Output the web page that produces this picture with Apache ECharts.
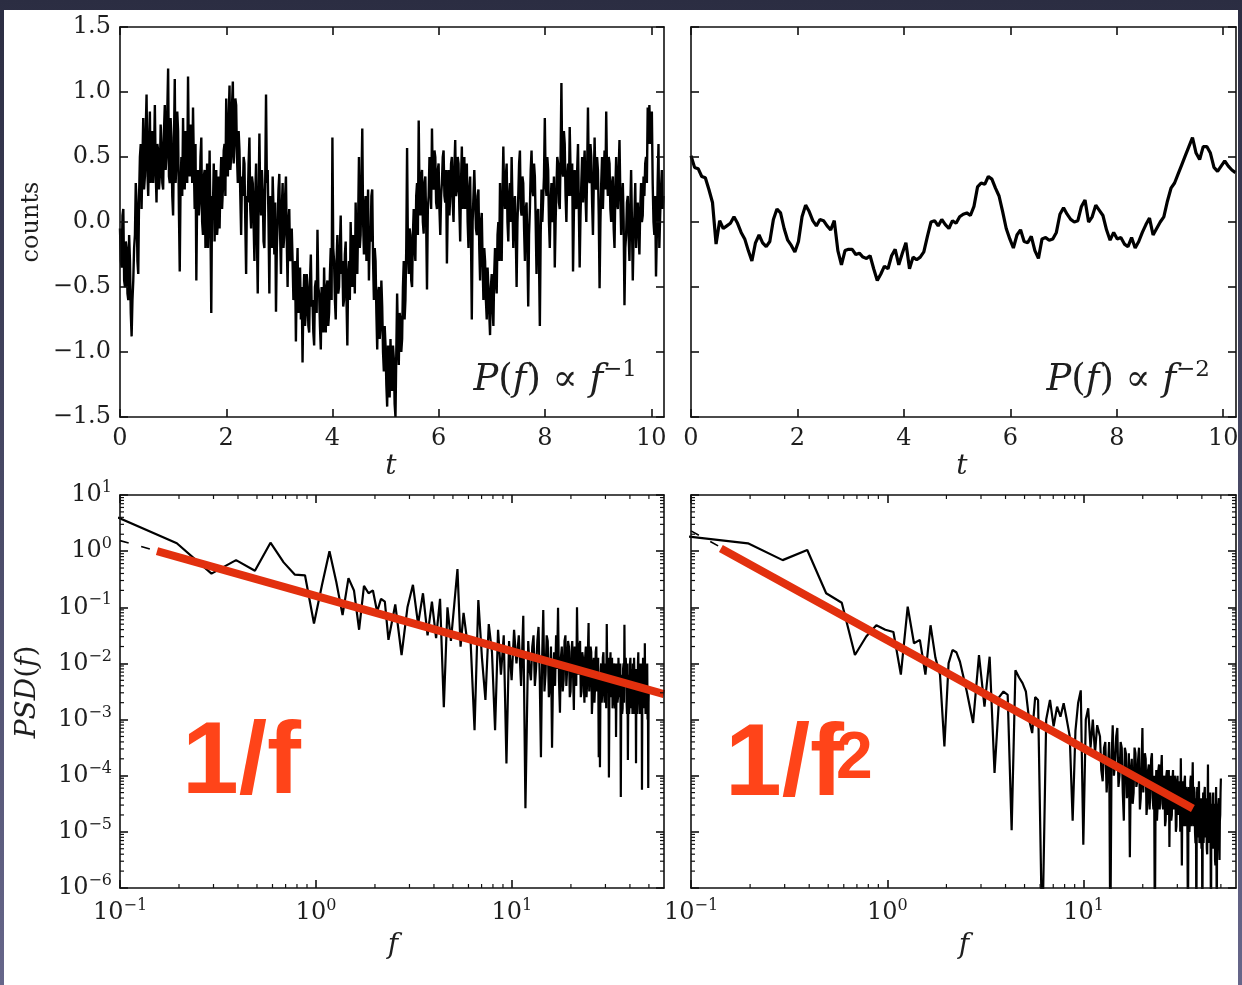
<!DOCTYPE html>
<html>
<head>
<meta charset="utf-8">
<title>1/f and 1/f² noise</title>
<script src="https://cdn.jsdelivr.net/npm/echarts@6/dist/echarts.min.js"></script>
<style>
  html, body { margin: 0; padding: 0; background: #34364c; }
  #chart { width: 1242px; height: 985px; }
</style>
</head>
<body>
<div id="chart"></div>
<script>
// ---- time series (counts), evenly sampled over 0 .. T_SPAN ----
const T_SPAN = 10.23;

// pink noise, P(f) ∝ f^-1
const pinkCounts = [
  -0.05, -0.3, -0.35, 0.05, 0.1, -0.45, -0.5, -0.15, -0.2, -0.55, -0.6, -0.1, -0.3, -0.7, -0.88, -0.6,
  -0.45, -0.2, -0.1, 0.3, 0.15, -0.3, -0.4, 0.2, 0.5, 0.6, 0.1, 0.45, 0.8, 0.25, 0.35, 0.7,
  0.98, 0.4, 0.2, 0.6, 0.85, 0.3, 0.45, 0.7, 0.3, 0.5, 0.9, 0.4, 0.15, 0.6, 0.55, 0.25,
  0.35, 0.75, 0.6, 0.3, 0.25, 0.7, 0.9, 0.4, 0.5, 0.85, 1.18, 0.35, 0.3, 0.8, 0.65, 0.2,
  0.05, 0.6, 1.1, 0.3, 0.45, 0.85, 0.7, 0.1, -0.38, 0.3, 0.5, 0.2, 0.8, 0.35, 0.25, 0.7,
  0.6, 0.3, 1.12, 0.5, 0.35, 0.75, 0.7, 0.3, 0.88, 0.45, 0.1, 0.6, -0.45, 0.2, 0.4, 0.05,
  0.15, 0.5, 0.65, 0.0, -0.1, 0.35, 0.4, -0.2, 0.2, 0.45, -0.2, 0.1, 0.55, 0.0, -0.7, 0.2,
  0.1, 0.45, -0.15, 0.2, 0.4, -0.1, 0.0, 0.35, -0.05, 0.3, 0.5, 0.1, 0.25, 0.55, 0.6, 0.2,
  0.95, 0.5, 0.35, 0.8, 1.05, 0.4, 0.5, 0.9, 1.08, 0.45, 0.6, 0.95, 0.9, 0.5, 0.3, 0.7,
  0.55, 0.2, -0.1, 0.35, 0.2, 0.5, 0.45, 0.0, -0.4, 0.2, 0.15, 0.45, 0.65, 0.1, -0.05, 0.35,
  0.3, 0.0, -0.3, 0.2, 0.45, -0.1, -0.55, 0.15, 0.68, 0.2, 0.05, 0.4, 0.25, -0.15, -0.2, 0.3,
  0.98, 0.3, 0.4, 0.0, -0.55, 0.2, 0.1, -0.2, 0.35, 0.1, -0.25, 0.15, -0.69, -0.2, 0.0, 0.25,
  0.37, -0.1, -0.4, 0.1, 0.3, -0.2, -0.1, 0.2, 0.35, -0.15, -0.5, 0.0, 0.1, -0.3, -0.25, -0.05,
  -0.3, -0.6, -0.55, -0.3, -0.92, -0.45, -0.2, -0.7, -0.6, -0.35, -0.75, -0.5, -1.08, -0.6, -0.4, -0.8,
  -0.7, -0.4, -0.5, -0.8, -0.85, -0.45, -0.25, -0.65, -0.6, -0.85, -0.95, -0.5, -0.45, -0.7, -0.06, -0.5,
  -0.55, -0.8, -0.98, -0.5, -0.6, -0.85, -0.35, -0.7, -0.85, -0.5, -0.45, -0.8, -0.7, -0.4, -0.2, -0.6,
  0.65, -0.2, -0.3, -0.6, -0.75, -0.3, -0.1, -0.55, -0.5, -0.2, 0.05, -0.4, -0.3, -0.65, -0.6, -0.25,
  -0.15, -0.6, -0.95, -0.4, -0.3, -0.6, 0.0, -0.35, -0.5, -0.1, -0.2, -0.55, 0.15, -0.2, -0.4, 0.0,
  0.5, -0.2, -0.1, 0.3, 0.72, 0.0, -0.25, 0.1, 0.2, -0.3, -0.05, 0.25, -0.45, -0.1, -0.15, 0.2,
  0.25, -0.3, -0.6, -0.2, -0.3, -0.7, -0.98, -0.55, -0.5, -0.9, -0.8, -0.45, -0.65, -1.0, -1.15, -0.8,
  -0.95, -1.25, -1.42, -0.95, -1.1, -1.35, -0.9, -1.2, -1.3, -0.95, -1.05, -1.4, -1.5, -1.0, -0.55, -0.9,
  -1.1, -0.7, -0.75, -1.0, -0.9, -0.5, -0.3, -0.75, -0.6, -0.2, 0.57, -0.2, -0.4, -0.05, -0.1, -0.45,
  -0.5, -0.1, 0.1, -0.2, -0.3, 0.2, 0.3, -0.1, 0.78, 0.2, 0.05, 0.35, 0.4, 0.0, -0.09, 0.3,
  0.35, 0.0, -0.52, 0.1, 0.2, 0.5, 0.45, 0.1, 0.72, 0.3, 0.25, 0.55, 0.5, 0.15, 0.1, 0.4,
  0.45, 0.1, -0.1, 0.2, 0.3, 0.5, 0.55, 0.2, 0.15, 0.4, -0.32, 0.1, 0.4, 0.05, 0.2, 0.45,
  0.5, 0.15, 0.0, 0.4, 0.63, 0.2, 0.25, 0.5, 0.45, 0.1, -0.15, 0.3, 0.58, 0.1, 0.3, 0.5,
  0.1, 0.35, 0.45, 0.0, -0.2, 0.25, 0.35, -0.1, -0.75, 0.0, 0.2, 0.4, 0.4, -0.05, -0.1, 0.2,
  0.25, -0.2, -0.45, 0.0, 0.07, -0.3, -0.6, -0.2, -0.3, -0.6, -0.75, -0.35, -0.5, -0.7, -0.87, -0.5,
  -0.4, -0.65, -0.8, -0.4, -0.2, -0.45, -0.55, -0.1, 0.0, -0.3, 0.3, 0.0, -0.3, 0.2, 0.58, 0.2,
  0.1, 0.35, 0.45, 0.0, -0.15, 0.2, 0.3, 0.0, 0.5, 0.15, -0.2, 0.1, 0.2, -0.1, -0.5, 0.0,
  0.2, 0.45, 0.55, 0.1, 0.05, 0.35, 0.3, -0.05, -0.3, 0.1, 0.15, -0.2, -0.65, -0.1, 0.1, 0.4,
  0.55, 0.25, 0.2, 0.45, 0.35, 0.0, -0.4, 0.05, 0.1, -0.3, -0.8, -0.1, 0.25, 0.0, 0.0, 0.35,
  0.8, 0.3, 0.2, 0.5, 0.4, 0.0, -0.2, 0.15, 0.3, 0.0, 0.05, 0.35, -0.35, 0.0, 0.25, 0.5,
  0.45, 0.15, 0.1, 0.5, 1.07, 0.4, 0.35, 0.7, 0.6, 0.2, 0.0, 0.35, 0.45, 0.2, 0.73, 0.4,
  0.2, 0.45, -0.38, 0.05, 0.4, 0.15, 0.1, 0.4, 0.6, 0.1, -0.35, 0.05, 0.3, 0.5, 0.15, 0.4,
  0.55, 0.2, 0.0, 0.4, 0.88, 0.35, 0.3, 0.6, 0.5, 0.15, -0.1, 0.3, 0.65, 0.3, 0.25, 0.5,
  0.4, 0.05, -0.51, 0.0, 0.3, 0.5, 0.1, 0.35, 0.55, 0.25, 0.85, 0.35, 0.2, 0.5, 0.45, 0.1,
  0.0, 0.3, 0.35, -0.05, -0.2, 0.25, 0.5, 0.15, 0.1, 0.4, 0.63, 0.2, -0.1, 0.15, 0.3, 0.0,
  -0.64, -0.2, -0.1, 0.15, 0.2, -0.1, -0.3, 0.1, 0.4, 0.0, -0.45, -0.1, 0.05, 0.3, -0.2, 0.1,
  0.15, -0.1, -0.25, 0.1, 0.3, 0.0, 0.05, 0.35, 0.2, 0.45, 0.5, 0.3, 0.88, 0.6, 0.9, 0.7,
  0.6, 0.85, 0.3, 0.0, -0.1, 0.2, -0.42, -0.1, 0.3, 0.6, -0.2, 0.05, 0.25, 0.4, 0.1, 0.2
];

// brown noise, P(f) ∝ f^-2
const brownCounts = [
  0.51, 0.42, 0.41, 0.35, 0.34, 0.25, 0.15, -0.17, 0.01, -0.05,
  -0.03, -0.01, 0.04, -0.01, -0.08, -0.13, -0.22, -0.30, -0.16, -0.10,
  -0.16, -0.19, -0.15, 0.02, 0.10, 0.07, -0.05, -0.14, -0.18, -0.23,
  -0.15, 0.04, 0.13, 0.08, 0.01, -0.03, 0.02, 0.01, -0.03, -0.06,
  0.01, -0.22, -0.33, -0.22, -0.21, -0.21, -0.25, -0.24, -0.27, -0.28,
  -0.26, -0.36, -0.45, -0.40, -0.34, -0.36, -0.26, -0.21, -0.33, -0.24,
  -0.16, -0.36, -0.27, -0.29, -0.27, -0.23, -0.11, 0.00, 0.01, -0.03,
  0.02, -0.02, -0.05, 0.01, -0.01, 0.04, 0.06, 0.07, 0.05, 0.12,
  0.27, 0.30, 0.29, 0.35, 0.33, 0.26, 0.20, 0.08, -0.05, -0.13,
  -0.20, -0.10, -0.06, -0.15, -0.16, -0.11, -0.22, -0.28, -0.13, -0.12,
  -0.14, -0.13, -0.08, 0.06, 0.11, 0.06, 0.02, 0.00, 0.01, 0.12,
  0.17, 0.00, 0.04, 0.13, 0.09, 0.05, -0.06, -0.14, -0.08, -0.13,
  -0.12, -0.17, -0.19, -0.12, -0.20, -0.15, -0.08, -0.02, 0.03, -0.10,
  -0.05, 0.00, 0.04, 0.16, 0.26, 0.30, 0.37, 0.44, 0.51, 0.58,
  0.65, 0.53, 0.48, 0.58, 0.58, 0.53, 0.42, 0.39, 0.43, 0.47,
  0.43, 0.40, 0.38
];

// ---- power spectra, shared frequency grid ----
const freq = [
  0.0977, 0.195, 0.293, 0.391, 0.488, 0.586, 0.684, 0.781, 0.879, 0.977,
  1.074, 1.172, 1.270, 1.367, 1.465, 1.563, 1.660, 1.758, 1.855, 1.953,
  2.051, 2.148, 2.246, 2.344,
  2.539, 2.734, 2.930, 3.125, 3.320, 3.516, 3.711, 3.906, 4.102, 4.297,
  4.492, 4.688, 4.883, 5.078, 5.273, 5.469, 5.664, 5.859,
  6.152, 6.445, 6.738, 7.031, 7.324, 7.617, 7.910, 8.203, 8.496, 8.789,
  9.082, 9.375, 9.668, 9.961, 10.254, 10.547, 10.840, 11.133, 11.426, 11.719,
  12.11, 12.30, 12.50, 12.70, 12.89, 13.09, 13.28, 13.48, 13.67, 13.87,
  14.06, 14.26, 14.45, 14.65, 14.84, 15.04, 15.23, 15.43, 15.63, 15.82,
  16.02, 16.21, 16.41, 16.60, 16.80, 16.99, 17.19, 17.38, 17.58, 17.77,
  17.97, 18.16, 18.36, 18.55, 18.75, 18.95, 19.14, 19.34, 19.53, 19.73,
  19.92, 20.12, 20.31, 20.51, 20.70, 20.90, 21.09, 21.29, 21.48, 21.68,
  21.88, 22.07, 22.27, 22.46, 22.66, 22.85, 23.05, 23.24, 23.44, 23.63,
  23.83, 24.02, 24.22, 24.41, 24.61, 24.80, 25.00, 25.20, 25.39, 25.59,
  25.78, 25.98, 26.17, 26.37, 26.56, 26.76, 26.95, 27.15, 27.34, 27.54,
  27.73, 27.93, 28.13, 28.32, 28.52, 28.71, 28.91, 29.10, 29.30, 29.49,
  29.69, 29.88, 30.08, 30.27, 30.47, 30.66, 30.86, 31.05, 31.25, 31.45,
  31.64, 31.84, 32.03, 32.23, 32.42, 32.62, 32.81, 33.01, 33.20, 33.40,
  33.59, 33.79, 33.98, 34.18, 34.38, 34.57, 34.77, 34.96, 35.16, 35.35,
  35.55, 35.74, 35.94, 36.13, 36.33, 36.52, 36.72, 36.91, 37.11, 37.30,
  37.50, 37.70, 37.89, 38.09, 38.28, 38.48, 38.67, 38.87, 39.06, 39.26,
  39.45, 39.65, 39.84, 40.04, 40.23, 40.43, 40.63, 40.82, 41.02, 41.21,
  41.41, 41.60, 41.80, 41.99, 42.19, 42.38, 42.58, 42.77, 42.97, 43.16,
  43.36, 43.55, 43.75, 43.95, 44.14, 44.34, 44.53, 44.73, 44.92, 45.12,
  45.31, 45.51, 45.70, 45.90, 46.09, 46.29, 46.48, 46.68, 46.88, 47.07,
  47.27, 47.46, 47.66, 47.85, 48.05, 48.24, 48.44, 48.63, 48.83, 49.02,
  49.22, 49.41, 49.61, 49.80, 50.00
];

// log10 PSD of the pink series
const pinkPsdLog10 = [
  0.60, 0.14, -0.40, -0.16, -0.35, 0.15, -0.20, -0.42, -0.43, -1.29,
  -0.60, 0.00, -0.55, -1.14, -0.48, -0.70, -1.40, -0.62, -0.75, -0.70,
  -1.08, -0.85, -0.90, -1.58,
  -0.95, -1.85, -1.0, -0.6, -1.3, -0.75, -1.5, -0.9, -1.55, -0.85,
  -2.78, -1.0, -1.6, -0.95, -0.32, -1.7, -1.1, -1.5,
  -1.6, -3.19, -0.87, -1.9, -2.65, -1.3, -1.8, -3.19, -1.4, -2.2,
  -1.5, -3.78, -1.6, -2.3, -1.4, -2.0, -1.5, -2.4, -1.15, -4.58,
  -1.6, -2.1, -2.3, -1.7, -1.5, -2.4, -2.1, -1.6, -1.35, -2.3, -3.67, -1.9, -1.05, -2.5, -2.2, -1.5, -1.6, -2.6, -2.4, -1.7,
  -3.5, -2.2, -1.8, -2.4, -1.5, -2.1, -1.01, -2.3, -2.88, -1.9, -1.7, -2.5, -2.3, -1.6, -1.5, -2.4, -2.1, -1.6, -1.7, -2.6,
  -2.5, -1.8, -1.6, -2.2, -2.83, -1.7, -1.8, -2.4, -1.0, -2.0, -2.2, -1.7, -1.6, -2.6, -2.5, -1.8, -1.9, -2.3, -2.7, -1.9,
  -1.7, -2.6, -2.3, -1.8, -1.28, -2.5, -2.1, -1.7, -1.8, -2.9, -2.6, -2.0, -1.9, -2.7, -2.4, -1.8, -1.7, -2.5, -2.2, -1.9,
  -3.67, -2.3, -3.85, -2.2, -2.0, -2.7, -2.5, -1.9, -1.8, -2.4, -2.7, -2.1, -2.0, -2.8, -1.3, -2.2, -2.4, -1.9, -4.03, -2.5,
  -2.1, -1.8, -2.6, -2.2, -1.9, -2.8, -2.5, -2.0, -2.1, -2.6, -2.8, -2.0, -3.31, -2.4, -2.0, -2.7, -2.6, -1.9, -1.9, -2.6,
  -2.5, -2.0, -4.38, -2.6, -2.2, -2.9, -2.8, -2.1, -2.0, -2.7, -1.31, -2.3, -2.4, -1.9, -2.1, -2.7, -2.9, -2.0, -3.72, -2.5,
  -2.2, -2.9, -2.6, -2.0, -1.9, -2.5, -2.8, -2.1, -2.3, -2.9, -2.0, -2.4, -2.9, -1.9, -2.2, -2.8, -2.6, -2.1, -3.78, -2.4,
  -2.1, -2.9, -2.7, -2.0, -1.8, -2.6, -2.5, -2.1, -2.9, -2.3, -2.0, -2.8, -2.6, -2.0, -4.25, -2.6, -2.3, -1.9, -2.8, -2.2,
  -2.0, -2.7, -1.64, -2.4, -2.9, -2.1, -2.2, -2.8, -2.6, -2.0, -3.0, -2.5, -4.22, -2.7, -2.4
];

// log10 PSD of the brown series
const brownPsdLog10 = [
  0.26, 0.14, -0.16, 0.02, -0.75, -0.92, -1.85, -1.52, -1.32, -1.40,
  -1.44, -2.20, -0.99, -1.64, -1.58, -2.20, -1.32, -1.90, -2.20, -3.48,
  -2.00, -1.76, -1.80, -1.97,
  -2.5, -3.06, -1.85, -2.77, -1.88, -3.95, -2.6, -2.5, -2.56, -4.97,
  -2.12, -2.25, -2.35, -2.5, -3.0, -3.24, -2.6, -2.65,
  -7, -3.0, -2.65, -3.12, -2.77, -2.95, -2.71, -3.0, -3.3, -4.8,
  -3.2, -2.7, -2.48, -5.23, -3.0, -2.8, -3.5, -3.0, -3.6, -3.1,
  -3.3, -3.9, -4.1, -3.5, -3.4, -4.3, -3.9, -3.4, -7, -3.7, -3.1, -4.0, -3.8, -3.3, -3.15, -4.2, -4.0, -3.4, -3.5, -4.3,
  -4.8, -3.5, -3.6, -4.4, -4.2, -3.6, -5.45, -3.9, -3.7, -4.5, -4.3, -3.5, -3.6, -4.2, -4.1, -3.7, -3.5, -4.6, -4.4, -3.8,
  -3.15, -4.3, -4.0, -3.6, -3.7, -4.7, -4.5, -3.9, -3.8, -4.6, -4.2, -3.7, -3.6, -4.4, -4.6, -4.0, -7, -4.5, -3.9, -4.8,
  -4.5, -3.9, -3.8, -4.6, -4.3, -3.9, -3.63, -4.5, -4.6, -4.1, -4.0, -4.9, -4.8, -4.0, -3.9, -4.7, -4.4, -3.9, -5.27, -4.3,
  -4.0, -4.8, -4.7, -4.1, -3.9, -4.6, -4.5, -4.0, -4.1, -5.0, -4.9, -4.2, -4.0, -4.7, -4.6, -4.1, -4.2, -5.0, -3.69, -4.5,
  -5.6, -4.3, -4.1, -4.9, -4.7, -4.1, -4.0, -4.9, -4.8, -4.2, -4.3, -5.1, -7, -4.6, -4.2, -5.0, -4.8, -4.1, -4.0, -4.9,
  -4.6, -4.2, -3.76, -4.5, -4.9, -4.2, -4.3, -5.0, -5.2, -4.4, -7, -4.6, -4.2, -5.1, -4.9, -4.3, -4.1, -5.2, -5.0, -4.4,
  -4.4, -5.0, -5.3, -4.4, -7, -4.8, -4.3, -5.2, -4.9, -4.3, -4.2, -5.0, -5.1, -4.4, -4.5, -5.3, -5.4, -4.6, -3.8, -4.9,
  -4.7, -4.3, -5.2, -4.6, -4.3, -5.4, -7, -4.5, -4.6, -5.3, -5.0, -4.4, -4.3, -5.2, -5.3, -4.6, -4.5, -5.5, -5.6, -4.7,
  -4.2, -5.3, -7, -4.5, -4.6, -5.2, -5.1, -4.5, -4.4, -5.3, -5.5, -4.8, -4.7, -4.3, -4.05
];

// power-law fits: [f, PSD] end points
const pinkFit      = [[0.1545, 1.0], [59.7, 0.00285]];
const pinkFitDash  = [[0.1, 1.54], [59.7, 0.00285]];
const brownFit     = [[0.142, 1.12], [36.0, 2.6e-5]];
const brownFitDash = [[0.1, 2.3], [36.0, 2.6e-5]];

// axis ticks
const tTicks = [0, 2, 4, 6, 8, 10];
const fMajor = [0.1, 1, 10];
const psdMajor = [1e-6, 1e-5, 1e-4, 1e-3, 1e-2, 1e-1, 1, 10];

// ---------------------------------------------------------------
const SERIF = '"DejaVu Serif", "Liberation Serif", serif';
const INK = '#1e1e1e';
const LINE = { color: '#111', width: 1.6 };
const F_MIN = 0.1, F_MAX = 59.7, P_MIN = 1e-6, P_MAX = 10, T_MAX = 10.24;

// minor decade ticks 2..9 × 10^n inside (lo, hi)
function minorLog(lo, hi) {
  const out = [];
  for (let e = Math.floor(Math.log10(lo)); e <= Math.ceil(Math.log10(hi)); e++) {
    for (let m = 2; m <= 9; m++) {
      const v = m * Math.pow(10, e);
      if (v > lo * 1.0001 && v < hi * 0.9999) out.push(v);
    }
  }
  return out;
}
const fMinor = minorLog(F_MIN, F_MAX);
const psdMinor = minorLog(P_MIN, P_MAX);

function pow10Label(v) {
  const e = Math.round(Math.log10(v));
  return '{m|10}{e|' + (e < 0 ? '\u2212' + (-e) : String(e)) + '}';
}
const powRich = {
  m: { fontFamily: SERIF, fontSize: 24, color: INK, lineHeight: 30 },
  e: { fontFamily: SERIF, fontSize: 16, color: INK, lineHeight: 8, verticalAlign: 'top' }
};
function fixedLabel(v) {
  return (v < 0 ? '\u2212' : '') + Math.abs(v).toFixed(1);
}

function axis(o) {
  return Object.assign({
    splitLine: { show: false },
    axisLine: { show: true, onZero: false, lineStyle: LINE },
    axisLabel: { show: false },
    silent: true,
    z: 5
  }, o);
}

const xAxes = [], yAxes = [];

// time panels (grid 0, 1): axes 0-3
[0, 1].forEach(function (g) {
  const tick = { show: true, inside: true, length: 8, lineStyle: LINE, customValues: tTicks };
  xAxes.push(axis({
    gridIndex: g, type: 'value', min: 0, max: T_MAX, position: 'bottom',
    axisTick: tick,
    axisLabel: { show: true, customValues: tTicks, margin: 10, fontFamily: SERIF, fontSize: 24, color: INK }
  }));
  xAxes.push(axis({ gridIndex: g, type: 'value', min: 0, max: T_MAX, position: 'top', axisTick: tick }));
  const ytick = { show: true, inside: true, length: 8, lineStyle: LINE };
  yAxes.push(axis({
    gridIndex: g, type: 'value', min: -1.5, max: 1.5, interval: 0.5, position: 'left',
    axisTick: ytick,
    axisLabel: { show: g === 0, margin: 9, formatter: fixedLabel, fontFamily: SERIF, fontSize: 24, color: INK }
  }));
  yAxes.push(axis({ gridIndex: g, type: 'value', min: -1.5, max: 1.5, interval: 0.5, position: 'right', axisTick: ytick }));
});

// spectrum panels (grid 2, 3): axes 4-7
[2, 3].forEach(function (g) {
  const xBase = { gridIndex: g, type: 'log', logBase: 10, min: F_MIN, max: F_MAX };
  const yBase = { gridIndex: g, type: 'log', logBase: 10, min: P_MIN, max: P_MAX };
  const majX = { show: true, inside: true, length: 8, lineStyle: LINE, customValues: fMajor };
  const majY = { show: true, inside: true, length: 8, lineStyle: LINE, customValues: psdMajor };
  xAxes.push(axis(Object.assign({}, xBase, {
    position: 'bottom', axisTick: majX,
    axisLabel: { show: true, customValues: fMajor, margin: 10, formatter: pow10Label, rich: powRich }
  })));
  xAxes.push(axis(Object.assign({}, xBase, { position: 'top', axisTick: majX })));
  yAxes.push(axis(Object.assign({}, yBase, {
    position: 'left', axisTick: majY,
    axisLabel: { show: g === 2, customValues: psdMajor, margin: 8, formatter: pow10Label, rich: powRich }
  })));
  yAxes.push(axis(Object.assign({}, yBase, { position: 'right', axisTick: majY })));
});

function timeSeries(values) {
  const step = T_SPAN / (values.length - 1);
  return values.map(function (v, i) { return [i * step, v]; });
}
function spectrum(logValues) {
  return freq.map(function (f, i) { return [f, Math.pow(10, logValues[i])]; });
}

function line(xi, yi, data, style, z) {
  return {
    type: 'line', xAxisIndex: xi, yAxisIndex: yi, data: data,
    showSymbol: false, symbol: 'none', clip: true, silent: true,
    lineStyle: style, z: z || 2, animation: false
  };
}

// short inward minor ticks on all four sides of a log-log panel
function minorTicks(ai, dim, values) {
  const tickStyle = { stroke: '#111', lineWidth: 1.2 };
  return {
    type: 'custom', xAxisIndex: ai, yAxisIndex: ai, silent: true, animation: false, clip: false, z: 6,
    data: values.map(function (v) { return dim === 'x' ? [v, 1] : [1, v]; }),
    renderItem: function (params, api) {
      if (dim === 'x') {
        const v = api.value(0);
        const a = api.coord([v, P_MIN]), b = api.coord([v, P_MAX]);
        return { type: 'group', children: [
          { type: 'line', shape: { x1: a[0], y1: a[1], x2: a[0], y2: a[1] - 4 }, style: tickStyle },
          { type: 'line', shape: { x1: b[0], y1: b[1], x2: b[0], y2: b[1] + 4 }, style: tickStyle }
        ] };
      }
      const v = api.value(1);
      const a = api.coord([F_MIN, v]), b = api.coord([F_MAX, v]);
      return { type: 'group', children: [
        { type: 'line', shape: { x1: a[0], y1: a[1], x2: a[0] + 4, y2: a[1] }, style: tickStyle },
        { type: 'line', shape: { x1: b[0], y1: b[1], x2: b[0] - 4, y2: b[1] }, style: tickStyle }
      ] };
    }
  };
}

const RED = '#e2300e';
const series = [
  line(0, 0, timeSeries(pinkCounts), { color: '#000', width: 2.4, join: 'miter', miterLimit: 3 }),
  line(2, 2, timeSeries(brownCounts), { color: '#000', width: 3.2 }),
  line(4, 4, spectrum(pinkPsdLog10), { color: '#000', width: 2.2 }),
  line(4, 4, pinkFitDash, { color: '#000', width: 1.6, type: [9, 13] }),
  line(4, 4, pinkFit, { color: RED, width: 8, cap: 'butt' }, 3),
  line(6, 6, spectrum(brownPsdLog10), { color: '#000', width: 2.2 }),
  line(6, 6, brownFitDash, { color: '#000', width: 1.6, type: [9, 13] }),
  line(6, 6, brownFit, { color: RED, width: 8, cap: 'butt' }, 3),
  minorTicks(4, 'x', fMinor),
  minorTicks(4, 'y', psdMinor),
  minorTicks(6, 'x', fMinor),
  minorTicks(6, 'y', psdMinor)
];

const italic = 'italic 28px ' + SERIF;
function annot(x, y, sup) {
  return {
    type: 'text', x: x, y: y, z: 10,
    style: {
      text: '{i|P}{r|(}{i|f}{r|) }{r|\u221D}{r| }{i|f}{s|' + sup + '}',
      textAlign: 'right', textVerticalAlign: 'middle',
      rich: {
        i: { fontFamily: SERIF, fontStyle: 'italic', fontSize: 37, fill: INK, lineHeight: 42 },
        r: { fontFamily: SERIF, fontSize: 37, fill: INK, lineHeight: 42 },
        s: { fontFamily: SERIF, fontSize: 23, fill: INK, lineHeight: 14, verticalAlign: 'top' }
      }
    }
  };
}
function label(text, x, y, font, rot) {
  return {
    type: 'text', x: x, y: y, rotation: rot || 0, z: 10,
    style: { text: text, font: font, fill: INK, textAlign: 'center', textVerticalAlign: 'middle' }
  };
}

const BIG = 'bold 102px "Liberation Sans", Arial, sans-serif';
const graphic = [
  { type: 'rect', z: -100, shape: { x: 4, y: 10, width: 1234, height: 975 }, style: { fill: '#ffffff' } },
  label('t', 391, 467, italic),
  label('t', 962, 467, italic),
  label('f', 393, 946, italic),
  label('f', 964, 946, italic),
  label('counts', 32, 222, '24px ' + SERIF, Math.PI / 2),
  {
    type: 'text', x: 28, y: 692, rotation: Math.PI / 2, z: 10,
    style: {
      text: '{i|PSD}{r|(}{i|f}{r|)}', textAlign: 'center', textVerticalAlign: 'middle',
      rich: {
        i: { fontFamily: SERIF, fontStyle: 'italic', fontSize: 28, fill: INK },
        r: { fontFamily: SERIF, fontSize: 28, fill: INK }
      }
    }
  },
  annot(637, 380, '\u22121'),
  annot(1210, 380, '\u22122'),
  { type: 'text', x: 182, y: 765, z: 20,
    style: { text: '1/f', font: BIG, fill: '#ff4419', textVerticalAlign: 'middle' } },
  { type: 'text', x: 725, y: 767, z: 20,
    style: { text: '1/f', font: BIG, fill: '#ff4419', textVerticalAlign: 'middle' } },
  { type: 'text', x: 836, y: 760, z: 20,
    style: { text: '2', font: 'bold 66px "Liberation Sans", Arial, sans-serif', fill: '#ff4419', textVerticalAlign: 'middle' } }
];

const chart = echarts.init(document.getElementById('chart'), null, { renderer: 'canvas' });
chart.setOption({
  backgroundColor: {
    type: 'linear', x: 0, y: 0, x2: 0, y2: 1,
    colorStops: [{ offset: 0, color: '#2b2d42' }, { offset: 1, color: '#66668a' }]
  },
  animation: false,
  grid: [
    { left: 120, top: 27, width: 544, height: 390 },
    { left: 691, top: 27, width: 545, height: 390 },
    { left: 120, top: 495, width: 544, height: 393 },
    { left: 691, top: 495, width: 545, height: 393 }
  ],
  xAxis: xAxes,
  yAxis: yAxes,
  series: series,
  graphic: graphic
});
</script>
</body>
</html>
